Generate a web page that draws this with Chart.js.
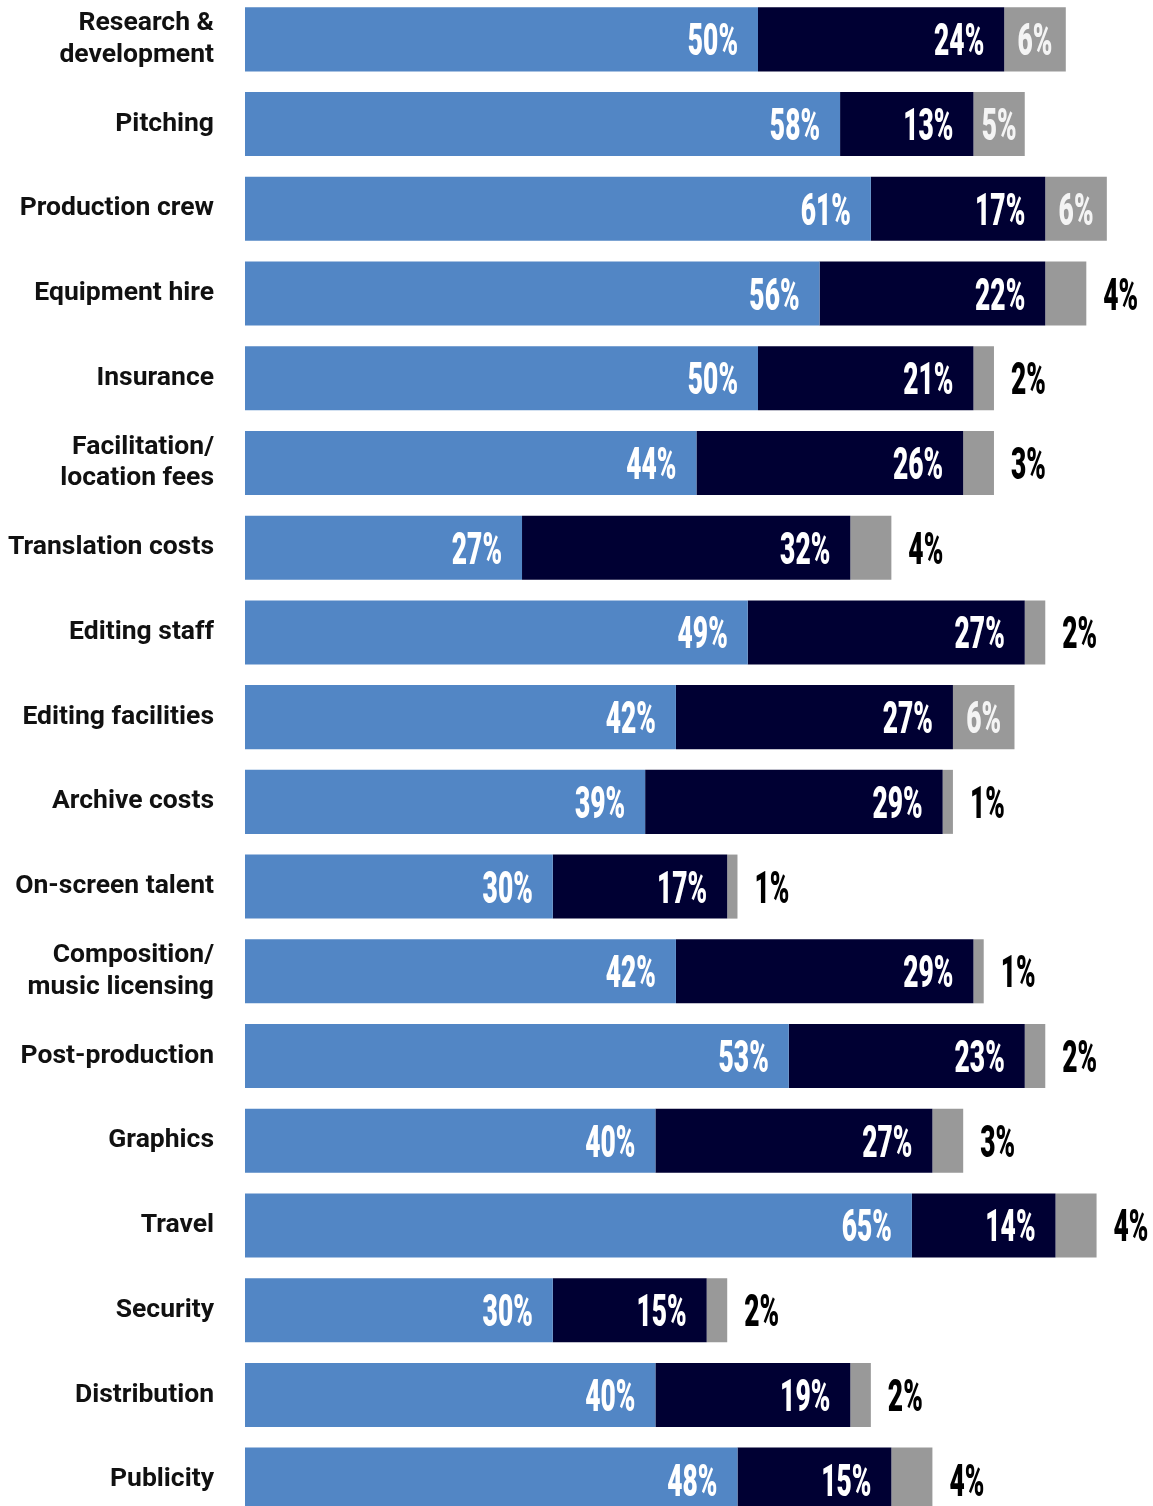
<!DOCTYPE html>
<html>
<head>
<meta charset="utf-8">
<script src="https://cdn.jsdelivr.net/npm/chart.js@4/dist/chart.umd.min.js"></script>
<style>
  html, body { margin: 0; padding: 0; background: #fff; overflow: hidden; }
  #wrap { position: relative; width: 1153px; height: 1525px; margin-top: -3px; }
</style>
</head>
<body>
<div id="wrap">
  <canvas id="cost-chart" width="1153" height="1525"></canvas>
</div>
<script>

var categories = [
  ["Research &", "development"],
  "Pitching",
  "Production crew",
  "Equipment hire",
  "Insurance",
  ["Facilitation/", "location fees"],
  "Translation costs",
  "Editing staff",
  "Editing facilities",
  "Archive costs",
  "On-screen talent",
  ["Composition/", "music licensing"],
  "Post-production",
  "Graphics",
  "Travel",
  "Security",
  "Distribution",
  "Publicity"
];

var lightBlue = [50, 58, 61, 56, 50, 44, 27, 49, 42, 39, 30, 42, 53, 40, 65, 30, 40, 48];
var navy      = [24, 13, 17, 22, 21, 26, 32, 27, 27, 29, 17, 29, 23, 27, 14, 15, 19, 15];
var grey      = [ 6,  5,  6,  4,  2,  3,  4,  2,  6,  1,  1,  1,  2,  3,  4,  2,  2,  4];

// draws the "NN%" numbers: right aligned inside the first two segments,
// grey segment gets its number inside when wide enough, otherwise just after it
var valueLabels = {
  id: 'valueLabels',
  afterDatasetsDraw: function(chart) {
    var ctx = chart.ctx;
    var squeeze = 0.6;
    ctx.save();
    ctx.font = '900 44px Roboto';
    ctx.textBaseline = 'alphabetic';
    chart.data.datasets.forEach(function(ds, di) {
      var meta = chart.getDatasetMeta(di);
      meta.data.forEach(function(bar, i) {
        var v = ds.data[i];
        var txt = v + '%';
        var w = ctx.measureText(txt).width * squeeze;
        var x, color = '#fff';
        if (di < 2) {
          x = bar.x - 20 - w;
        } else if (v >= 5) {
          x = (bar.base + bar.x) / 2 - w / 2;
          color = '#f4f4f4';
        } else {
          x = bar.x + 17;
          color = '#000';
        }
        ctx.save();
        ctx.translate(x, bar.y + 16);
        ctx.scale(squeeze, 1);
        ctx.fillStyle = color;
        ctx.textAlign = 'left';
        ctx.fillText(txt, 0, 0);
        ctx.restore();
      });
    });
    ctx.restore();
  }
};

new Chart(document.getElementById('cost-chart'), {
  type: 'bar',
  data: {
    labels: categories,
    datasets: [
      { data: lightBlue, backgroundColor: '#5286c5' },
      { data: navy, backgroundColor: '#000033' },
      { data: grey, backgroundColor: '#999999' }
    ]
  },
  options: {
    indexAxis: 'y',
    responsive: false,
    animation: false,
    events: [],
    layout: { padding: 0 },
    datasets: {
      bar: { categoryPercentage: 1, barPercentage: 0.756, borderWidth: 0 }
    },
    plugins: {
      legend: { display: false },
      tooltip: { enabled: false }
    },
    scales: {
      x: {
        stacked: true,
        display: false,
        min: 0,
        max: 88.5
      },
      y: {
        stacked: true,
        grid: { display: false, drawTicks: false },
        border: { display: false },
        afterFit: function(scale) {
          scale.width = 245;
          scale.paddingTop = 0;
          scale.paddingBottom = 0;
        },
        ticks: {
          padding: 31,
          color: '#111',
          font: { family: 'Roboto', weight: 'bold', size: 26.5, lineHeight: 1.2 }
        }
      }
    }
  },
  plugins: [valueLabels]
});

</script>
</body>
</html>
